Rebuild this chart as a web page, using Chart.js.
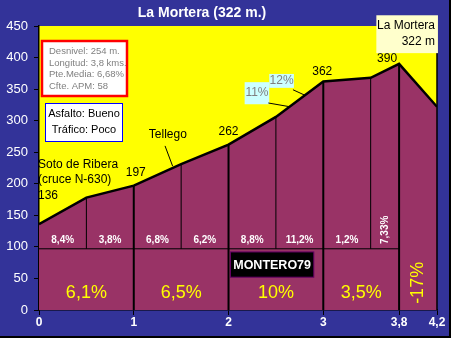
<!DOCTYPE html>
<html>
<head>
<meta charset="utf-8">
<script src="https://cdn.jsdelivr.net/npm/chart.js@4.4.0/dist/chart.umd.min.js"></script>
<style>
        html, body { margin: 0; padding: 0; background: #333399; }
        canvas { display: block; }
</style>
</head>
<body>
<canvas id="myChart" width="451" height="338"></canvas>
<script>
// profile data (km / m)
const distances = [0, 0.5, 1, 1.5, 2, 2.5, 3, 3.5, 3.8, 4.2];
const altitudes = [136, 178, 197, 231, 262, 306, 362, 368, 390, 322];
const xTicks = [0, 1, 2, 3, 3.8, 4.2];
const segmentGrades = ['8,4%', '3,8%', '6,8%', '6,2%', '8,8%', '11,2%', '1,2%', '7,33%'];
const kmGrades = ['6,1%', '6,5%', '10%', '3,5%', '-17%'];
const majorMarks = [1, 2, 3, 3.8];
const minorMarks = [0.5, 1.5, 2.5, 3.5];
const splitLevel = 97;

const FONT = '"Liberation Sans", Arial, sans-serif';

const altAt = d => altitudes[distances.indexOf(d)];

function txt(ctx, s, x, y, font, color, align, rot) {
        ctx.save();
        ctx.translate(x, y);
        if (rot) ctx.rotate(rot);
        ctx.font = font;
        ctx.fillStyle = color;
        ctx.textAlign = align || 'center';
        ctx.textBaseline = 'middle';
        ctx.fillText(s, 0, 0);
        ctx.restore();
}
function seg(ctx, x1, y1, x2, y2, w) {
        ctx.save();
        ctx.strokeStyle = '#000';
        ctx.lineWidth = w || 1;
        ctx.beginPath();
        ctx.moveTo(x1, y1);
        ctx.lineTo(x2, y2);
        ctx.stroke();
        ctx.restore();
}
function box(ctx, x1, y1, x2, y2, fill, stroke, w) {
        ctx.save();
        ctx.fillStyle = fill;
        ctx.fillRect(x1, y1, x2 - x1, y2 - y1);
        if (stroke) {
                ctx.strokeStyle = stroke;
                ctx.lineWidth = w || 1;
                ctx.strokeRect(x1, y1, x2 - x1, y2 - y1);
        }
        ctx.restore();
}

const profileArt = {
        id: 'profileArt',
        beforeDraw(chart) {
                const { ctx, chartArea: a } = chart;
                ctx.save();
                ctx.fillStyle = '#333399';
                ctx.fillRect(0, 0, chart.width, chart.height);
                ctx.fillStyle = '#ffff00';
                ctx.fillRect(a.left, a.top, a.right - a.left, a.bottom - a.top);
                ctx.restore();
        },
        afterDatasetsDraw(chart) {
                const { ctx, chartArea: a } = chart;
                const X = v => chart.scales.x.getPixelForValue(v);
                const Y = v => chart.scales.y.getPixelForValue(v);

                seg(ctx, a.right, a.top, a.right, a.bottom, 1.5);

                // grades per half km
                segmentGrades.forEach((g, i) => {
                        const mid = (distances[i] + distances[i + 1]) / 2;
                        if (i === segmentGrades.length - 1) {
                                txt(ctx, g, X(mid), Y(127), 'bold 10px ' + FONT, '#fff', 'center', -Math.PI / 2);
                        } else {
                                txt(ctx, g, X(mid), Y(111), 'bold 10px ' + FONT, '#fff');
                        }
                });
                // grades per km
                kmGrades.forEach((g, i) => {
                        const mid = (xTicks[i] + xTicks[i + 1]) / 2;
                        if (i === kmGrades.length - 1) {
                                txt(ctx, g, X(mid), Y(43), '18px ' + FONT, '#ffff00', 'center', -Math.PI / 2);
                        } else {
                                txt(ctx, g, X(mid), Y(27), '18px ' + FONT, '#ffff00');
                        }
                });

                // place names and heights
                const f12 = '12px ' + FONT;
                txt(ctx, 'Soto de Ribera', X(0) - 1, Y(231), f12, '#000', 'left');
                txt(ctx, '(cruce N-630)', X(0) - 1, Y(206), f12, '#000', 'left');
                txt(ctx, String(altAt(0)), X(0) - 1, Y(181), f12, '#000', 'left');
                txt(ctx, String(altAt(1)), X(1) + 2, Y(217), f12, '#000');
                txt(ctx, String(altAt(2)), X(2), Y(283), f12, '#000');
                txt(ctx, String(altAt(3)), X(3) - 1, Y(377), f12, '#000');
                txt(ctx, String(altAt(3.8)), X(3.8) - 2, Y(398), f12, '#000', 'right');

                txt(ctx, 'Tellego', X(1.36), Y(277), f12, '#000');
                seg(ctx, X(1.33), Y(260), X(1.41), Y(228));

                // callouts
                box(ctx, X(2.17), Y(361), X(2.43), Y(326), '#ccffff');
                txt(ctx, '11%', X(2.30), Y(344), f12, '#808080');
                seg(ctx, X(2.42), Y(328), X(2.65), Y(322));
                box(ctx, X(2.43), Y(374), X(2.69), Y(352), '#ccffff');
                txt(ctx, '12%', X(2.56), Y(364), f12, '#808080');
                seg(ctx, X(2.68), Y(349), X(2.81), Y(340));

                // summit label
                box(ctx, X(3.56), Y(467), X(4.21), Y(407), '#ffffcc');
                txt(ctx, 'La Mortera', X(4.2) - 2, Y(450), f12, '#000', 'right');
                txt(ctx, '322 m', X(4.2) - 2, Y(425), f12, '#000', 'right');

                // info boxes
                box(ctx, 42, 41, 127, 96, '#fff', '#ff0000', 2.5);
                const f9 = '9.5px ' + FONT;
                txt(ctx, 'Desnivel: 254 m.', 49, 51, f9, '#808080', 'left');
                txt(ctx, 'Longitud: 3,8 kms.', 49, 63, f9, '#808080', 'left');
                txt(ctx, 'Pte.Media: 6,68%', 49, 74, f9, '#808080', 'left');
                txt(ctx, 'Cfte. APM: 58', 49, 86, f9, '#808080', 'left');

                box(ctx, 45.5, 103.5, 122.5, 141.5, '#fff', '#0000ff', 1);
                txt(ctx, 'Asfalto: Bueno', 84, 114, '11px ' + FONT, '#000');
                txt(ctx, 'Tráfico: Poco', 84, 130, '11px ' + FONT, '#000');

                // signature
                box(ctx, X(2.02), Y(92), X(2.9), Y(52), '#000', '#660066', 1);
                txt(ctx, 'MONTERO79', (X(2.02) + X(2.9)) / 2, (Y(92) + Y(52)) / 2 + 1, 'bold 12.5px ' + FONT, '#fff');
        },
        afterDraw(chart) {
                const ctx = chart.ctx;
                txt(ctx, 'La Mortera (322 m.)', 202, 13, 'bold 14px ' + FONT, '#fff');
                // shadow edge on right and bottom
                ctx.save();
                ctx.fillStyle = '#000';
                ctx.fillRect(chart.width - 2, 0, 2, chart.height);
                ctx.fillRect(0, chart.height - 2, chart.width, 2);
                ctx.restore();
        }
};

// vertical marks and the split line, drawn as line datasets
const markSets = [];
majorMarks.forEach(d => {
        markSets.push({ data: [{ x: d, y: 0 }, { x: d, y: altAt(d) }], borderWidth: 2 });
});
minorMarks.forEach(d => {
        markSets.push({ data: [{ x: d, y: splitLevel }, { x: d, y: altAt(d) }], borderWidth: 1 });
});
markSets.push({ data: [{ x: 0, y: splitLevel }, { x: 3.8, y: splitLevel }], borderWidth: 1 });

const data = {
        datasets: [
                {
                        label: 'Perfil',
                        data: distances.map((d, i) => ({ x: d, y: altitudes[i] })),
                        borderColor: '#000',
                        borderWidth: 2.5,
                        backgroundColor: '#993366',
                        fill: 'origin',
                        pointRadius: 0,
                        tension: 0,
                        order: 10
                },
                ...markSets.map(m => ({
                        data: m.data,
                        borderColor: '#000',
                        borderWidth: m.borderWidth,
                        pointRadius: 0,
                        fill: false,
                        order: 0
                }))
        ]
};

const config = {
        type: 'line',
        data: data,
        options: {
                responsive: false,
                animation: false,
                devicePixelRatio: 1,
                layout: { padding: { top: 26, right: 14, left: 0, bottom: 0 } },
                plugins: { legend: { display: false }, tooltip: { enabled: false } },
                scales: {
                        x: {
                                type: 'linear',
                                min: 0,
                                max: 4.2,
                                afterBuildTicks: scale => { scale.ticks = xTicks.map(v => ({ value: v })); },
                                afterFit: scale => { scale.height = 28; },
                                grid: { drawOnChartArea: false, drawTicks: true, tickLength: 5, color: '#000' },
                                border: { color: '#000', width: 1.5 },
                                ticks: {
                                        color: '#fff',
                                        font: { family: FONT, size: 12, weight: 'bold' },
                                        padding: 0,
                                        maxRotation: 0,
                                        autoSkip: false,
                                        callback: v => String(v).replace('.', ',')
                                }
                        },
                        y: {
                                min: 0,
                                max: 450,
                                afterFit: scale => { scale.width = 39; },
                                grid: { drawOnChartArea: false, drawTicks: true, tickLength: 5, color: '#000' },
                                border: { color: '#000', width: 1.5 },
                                ticks: {
                                        stepSize: 50,
                                        color: '#fff',
                                        font: { family: FONT, size: 13 },
                                        padding: 6
                                }
                        }
                }
        },
        plugins: [profileArt]
};

const myChart = new Chart(document.getElementById('myChart'), config);
</script>
</body>
</html>
